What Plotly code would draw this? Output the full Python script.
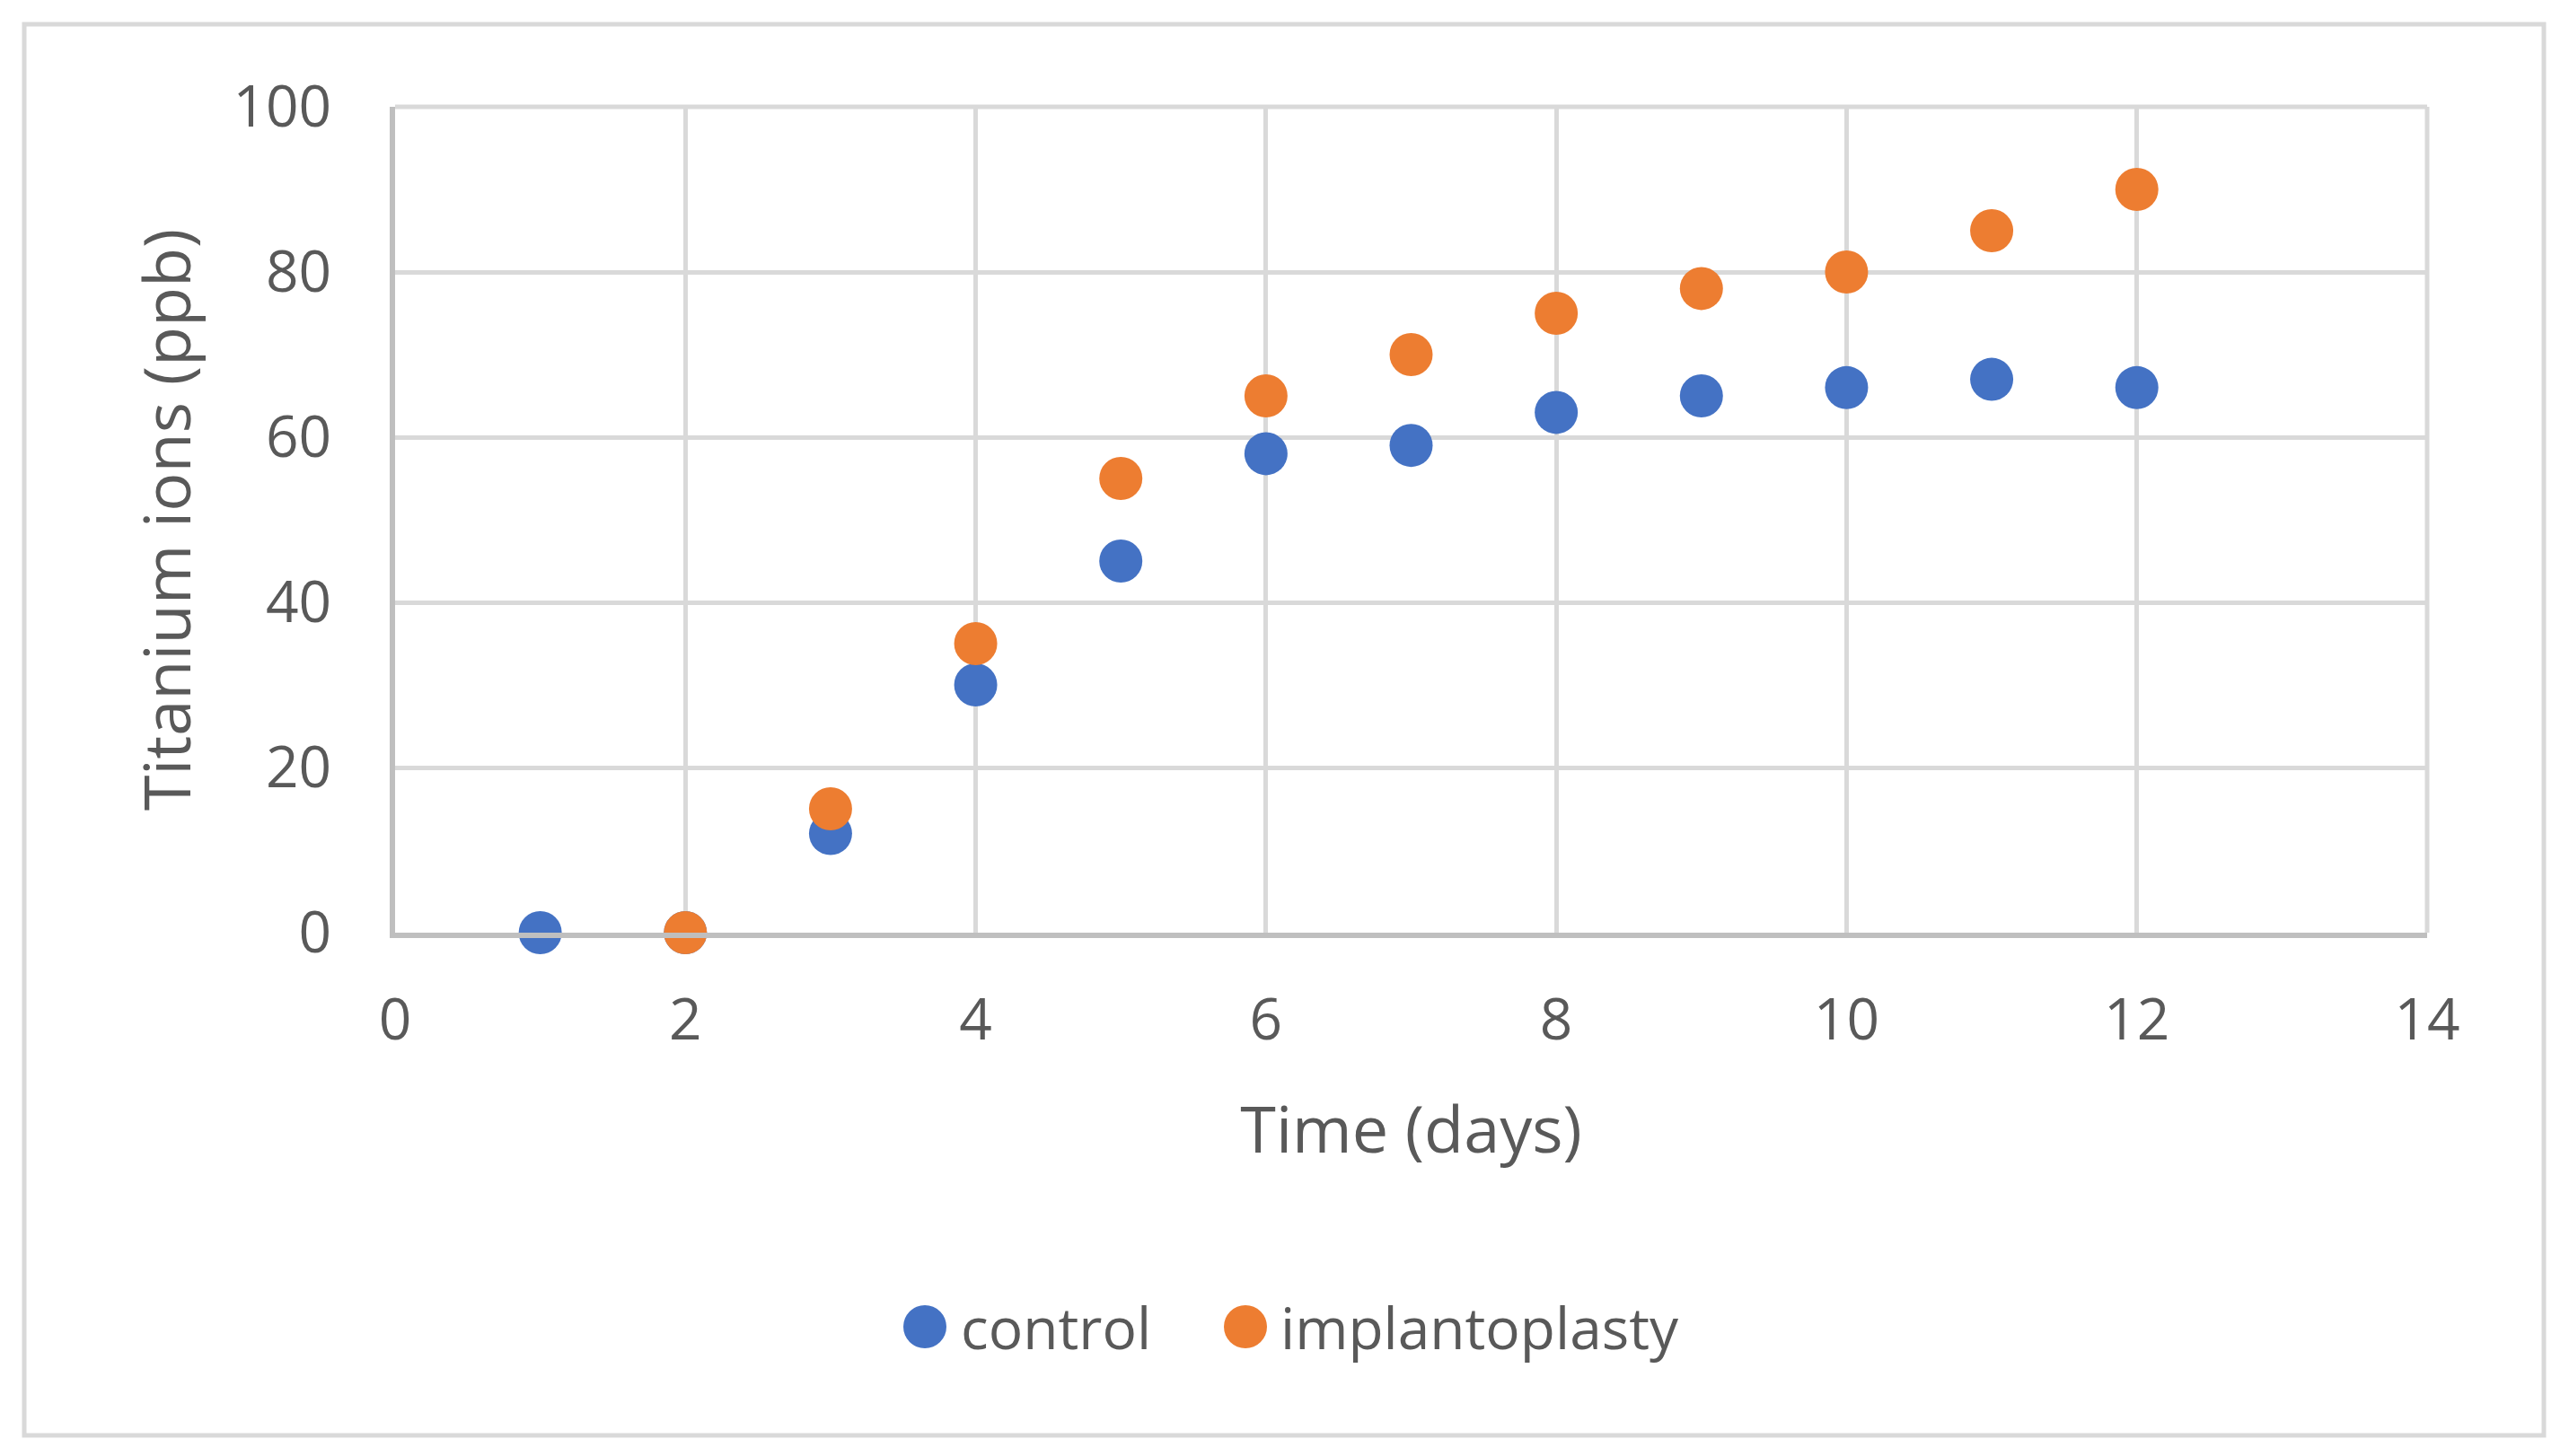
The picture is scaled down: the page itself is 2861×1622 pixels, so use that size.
import plotly.graph_objects as go

# ---- data ----
control_days = [1, 2, 3, 4, 5, 6, 7, 8, 9, 10, 11, 12]
control_ppb = [0, 0, 12, 30, 45, 58, 59, 63, 65, 66, 67, 66]
implant_days = [2, 3, 4, 5, 6, 7, 8, 9, 10, 11, 12]
implant_ppb = [0, 15, 35, 55, 65, 70, 75, 78, 80, 85, 90]
series_names = ["control", "implantoplasty"]
x_ticks = [0, 2, 4, 6, 8, 10, 12, 14]
y_ticks = [0, 20, 40, 60, 80, 100]

BLUE = "#4472C4"
ORANGE = "#ED7D31"
TXT = "#595959"
GRID = "#D9D9D9"
FONT = "Open Sans"

OFF = 8  # page body margin compensation
W, H = 2861 - OFF, 1622 - OFF
L, R, T, B = 440 - OFF, 2703 - OFF, 119 - OFF, 1039 - OFF

fig = go.Figure()
fig.add_trace(go.Scatter(x=control_days, y=control_ppb, mode="markers", name=series_names[0],
                         marker=dict(color=BLUE, size=48), cliponaxis=False))
fig.add_trace(go.Scatter(x=implant_days, y=implant_ppb, mode="markers", name=series_names[1],
                         marker=dict(color=ORANGE, size=48), cliponaxis=False))

pw, ph = R - L, B - T
def px(xp):
    return (xp - OFF - L) / pw
def py(yp):
    return (B - (yp - OFF)) / ph

shapes = [
    # outer chart border
    dict(type="rect", xref="paper", yref="paper",
         x0=px(27), x1=px(2833), y0=py(1599), y1=py(27),
         line=dict(color=GRID, width=5), fillcolor="rgba(0,0,0,0)", layer="below"),
    # top and right plot-area edges (gridlines at 100 and 14)
    dict(type="line", xref="paper", yref="paper", x0=0, x1=1, y0=1, y1=1,
         line=dict(color=GRID, width=5), layer="below"),
    dict(type="line", xref="paper", yref="paper", x0=1, x1=1, y0=0, y1=1,
         line=dict(color=GRID, width=5), layer="below"),
]
annotations = []
leg_y = py(1478)
for name, col, mx, tx in [(series_names[0], BLUE, 1030, 1068), (series_names[1], ORANGE, 1387, 1424)]:
    shapes.append(dict(type="circle", xref="paper", yref="paper",
                       xsizemode="pixel", ysizemode="pixel",
                       xanchor=px(mx), yanchor=leg_y, x0=-24, x1=24, y0=-24, y1=24,
                       fillcolor=col, line=dict(width=0)))
    annotations.append(dict(text=name, xref="paper", yref="paper", x=px(tx), y=leg_y,
                            xanchor="left", yanchor="middle", showarrow=False,
                            font=dict(family=FONT, size=64, color=TXT)))

fig.update_layout(
    width=W, height=H,
    margin=dict(l=L, r=W - R, t=T, b=H - B),
    paper_bgcolor="white", plot_bgcolor="white",
    showlegend=False,
    font=dict(family=FONT, color=TXT),
    shapes=shapes, annotations=annotations,
    xaxis=dict(range=[0, 14], tickvals=x_ticks, showgrid=True, gridcolor=GRID, gridwidth=5,
               showline=True, linecolor="#BFBFBF", linewidth=6, zeroline=False,
               tickfont=dict(family=FONT, size=64, color=TXT), ticks="", ticklabelstandoff=36,
               title=dict(text="Time (days)", font=dict(family=FONT, size=72, color=TXT), standoff=60)),
    yaxis=dict(range=[0, 100], tickvals=y_ticks, showgrid=True, gridcolor=GRID, gridwidth=5,
               showline=True, linecolor="#BFBFBF", linewidth=6, zeroline=False,
               tickfont=dict(family=FONT, size=64, color=TXT), ticks="", ticklabelstandoff=52,
               title=dict(text="Titanium ions (ppb)", font=dict(family=FONT, size=72, color=TXT), standoff=25)),
)

fig.write_html("out.html")
